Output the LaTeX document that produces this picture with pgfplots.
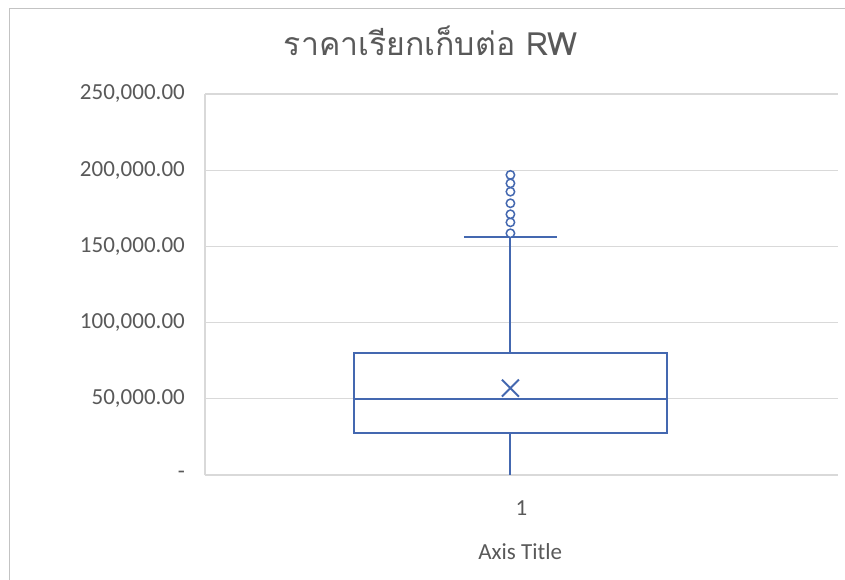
\documentclass[border=0pt]{standalone}
\usepackage{pgfplots}
\pgfplotsset{compat=1.18}
\usepackage{fontspec}
\setmainfont{Carlito}
\newfontfamily\thaifont[Script=Thai]{Loma}

\definecolor{boxblue}{HTML}{4468B0}
\definecolor{labelgray}{HTML}{595959}
\definecolor{gridgray}{HTML}{D9D9D9}

% five-number summary (box centred at x = 0.965)
\def\qlo{27500}   \def\qmed{49800} \def\qhi{80000}
\def\wlo{0}       \def\whi{156000}
\def\bl{0.4705}   \def\br{1.4595}  \def\bc{0.965}
\def\cl{0.818}    \def\cr{1.112}

\begin{document}
\begin{tikzpicture}
\useasboundingbox (0pt,0pt) rectangle (845pt,579pt);
% chart area frame
\draw[color=gridgray!90!black, line width=1pt] (9pt,-5pt) -- (9pt,570pt) -- (850pt,570pt);

\begin{axis}[
  at={(205pt,104pt)}, anchor=south west,
  scale only axis, width=633pt, height=381pt,
  xmin=0, xmax=2, ymin=0, ymax=250000,
  xtick={1}, xticklabels={1},
  ytick={0,50000,100000,150000,200000,250000},
  yticklabels={{-},{50,000.00},{100,000.00},{150,000.00},{200,000.00},{250,000.00}},
  scaled y ticks=false,
  major tick length=0pt,
  axis x line*=bottom, axis y line*=left,
  axis line style={draw=gridgray, line width=1.2pt},
  ymajorgrids, grid style={draw=gridgray, line width=1.2pt},
  tick label style={font=\fontsize{23}{26}\selectfont, text=labelgray},
  yticklabel style={anchor=east, inner sep=0pt, xshift=-20pt},
  xticklabel style={anchor=center, inner sep=0pt, yshift=-33pt},
  xlabel={Axis Title},
  xlabel style={at={(0.498,0)}, anchor=center, yshift=-77pt,
    font=\fontsize{23}{26}\selectfont, text=labelgray},
  title={\thaifont ราคาเรียกเก็บต่อ RW},
  title style={at={(0.357,1)}, anchor=center, yshift=47pt,
    font=\fontsize{32}{36}\selectfont, text=labelgray},
  clip=false,
  every axis plot/.append style={line width=2pt},
]
% box (lower to upper quartile)
\addplot[draw=boxblue] coordinates
  {(\bl,\qlo) (\br,\qlo) (\br,\qhi) (\bl,\qhi) (\bl,\qlo)} -- cycle;
% median
\addplot[draw=boxblue] coordinates {(\bl,\qmed) (\br,\qmed)};
% whiskers
\addplot[draw=boxblue] coordinates {(\bc,\qhi) (\bc,\whi)};
\addplot[draw=boxblue] coordinates {(\bc,\qlo) (\bc,\wlo)};
% upper whisker cap
\addplot[draw=boxblue] coordinates {(\cl,\whi) (\cr,\whi)};
% outliers
\addplot[only marks, mark=*, mark size=4.2pt,
  mark options={draw=boxblue, fill=white, line width=1.5pt}]
  coordinates {(0.965,158600) (0.965,165800) (0.965,171100) (0.965,178300)
               (0.965,185900) (0.965,191400) (0.965,196900)};
% mean
\addplot[only marks, mark=x, mark size=12pt,
  mark options={draw=boxblue, line width=2pt}]
  coordinates {(0.965,57000)};
\end{axis}
\end{tikzpicture}
\end{document}
